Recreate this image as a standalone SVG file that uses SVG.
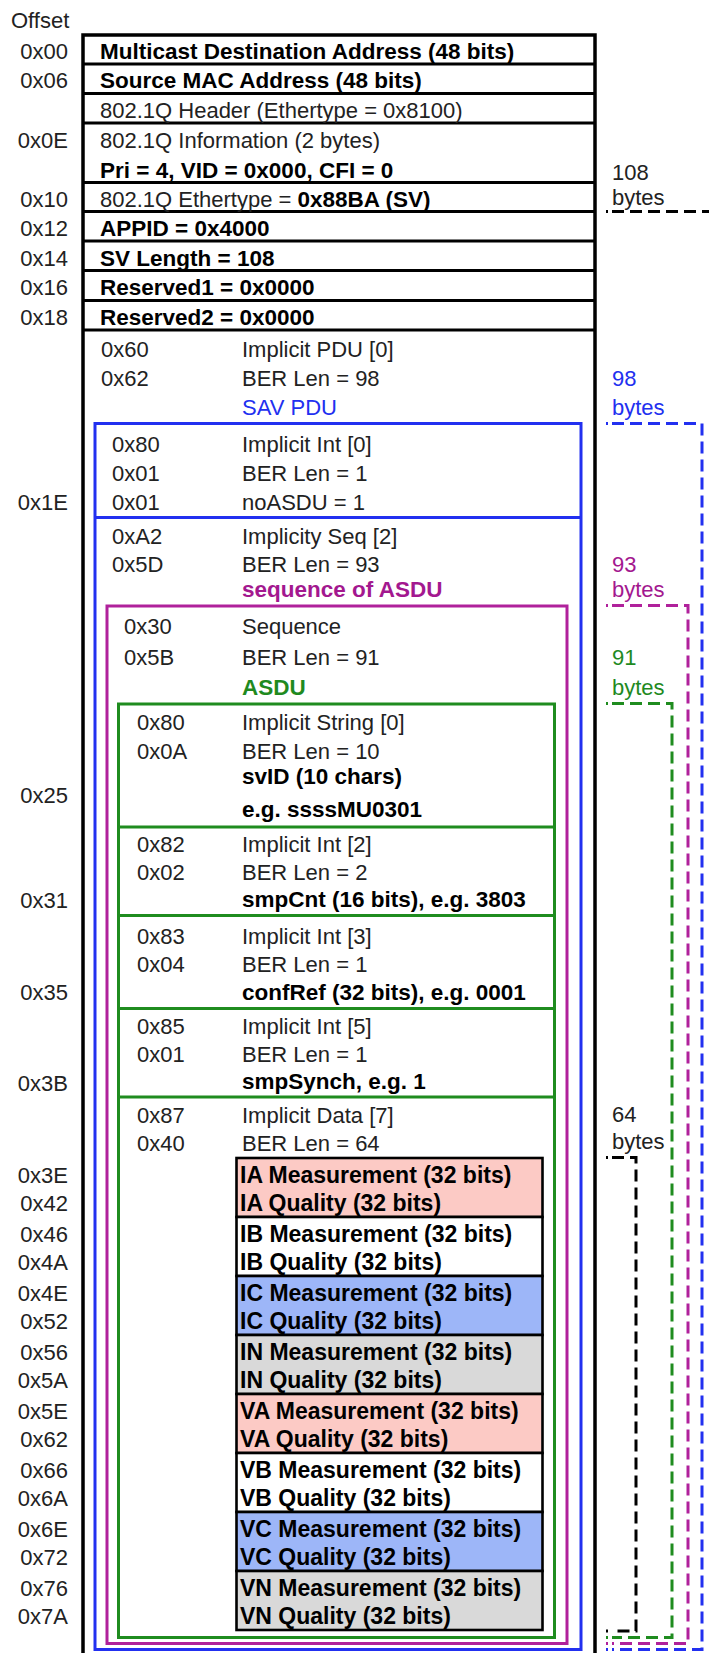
<svg xmlns="http://www.w3.org/2000/svg" width="709" height="1653" viewBox="0 0 709 1653">
<style>
text{font-family:"Liberation Sans",Arial,sans-serif;font-size:22px;fill:#222}
.b{font-weight:bold;font-size:22.5px;fill:#000}
.d{font-weight:bold;font-size:23px;fill:#000}
.r{text-anchor:end}
.bl{fill:#2230f0}
.mg{fill:#a3188f}
.gr{fill:#1f8a1f}
.sepK{stroke:#000;stroke-width:3}
.boxB{fill:none;stroke:#2230f0;stroke-width:3}
.boxM{fill:none;stroke:#b0219b;stroke-width:3}
.boxG{fill:none;stroke:#1f8c1f;stroke-width:3}
.cell{stroke:#000;stroke-width:2.6}
.pk{fill:#fccac5}.wh{fill:#fff}.bu{fill:#9db6f8}.gy{fill:#d9d9d9}
.dK{fill:none;stroke:#000;stroke-width:3;stroke-dasharray:12 6}
.dB{fill:none;stroke:#2230f0;stroke-width:3;stroke-dasharray:12 6}
.dM{fill:none;stroke:#b0219b;stroke-width:3;stroke-dasharray:12 6}
.dG{fill:none;stroke:#1f8c1f;stroke-width:3;stroke-dasharray:12 6}
</style>
<rect width="709" height="1653" fill="#fff"/>

<g id="offsets">
<text x="11" y="28">Offset</text>
<text class="r" x="68" y="59">0x00</text>
<text class="r" x="68" y="88">0x06</text>
<text class="r" x="68" y="148">0x0E</text>
<text class="r" x="68" y="207">0x10</text>
<text class="r" x="68" y="236">0x12</text>
<text class="r" x="68" y="265.5">0x14</text>
<text class="r" x="68" y="295">0x16</text>
<text class="r" x="68" y="324.5">0x18</text>
<text class="r" x="68" y="510">0x1E</text>
<text class="r" x="68" y="803">0x25</text>
<text class="r" x="68" y="908">0x31</text>
<text class="r" x="68" y="999.5">0x35</text>
<text class="r" x="68" y="1090.5">0x3B</text>
<text class="r" x="68" y="1182.5">0x3E</text>
<text class="r" x="68" y="1210.5">0x42</text>
<text class="r" x="68" y="1241.5">0x46</text>
<text class="r" x="68" y="1269.5">0x4A</text>
<text class="r" x="68" y="1300.5">0x4E</text>
<text class="r" x="68" y="1328.5">0x52</text>
<text class="r" x="68" y="1359.5">0x56</text>
<text class="r" x="68" y="1387.5">0x5A</text>
<text class="r" x="68" y="1418.5">0x5E</text>
<text class="r" x="68" y="1446.5">0x62</text>
<text class="r" x="68" y="1477.5">0x66</text>
<text class="r" x="68" y="1505.5">0x6A</text>
<text class="r" x="68" y="1536.5">0x6E</text>
<text class="r" x="68" y="1564.5">0x72</text>
<text class="r" x="68" y="1595.5">0x76</text>
<text class="r" x="68" y="1623.5">0x7A</text>
</g>

<g id="frame">
<rect x="83" y="35" width="512" height="1640" fill="none" stroke="#000" stroke-width="3.5"/>
</g>

<g id="header">
<line class="sepK" x1="83" y1="64" x2="595" y2="64"/>
<line class="sepK" x1="83" y1="93.5" x2="595" y2="93.5"/>
<line class="sepK" x1="83" y1="123" x2="595" y2="123"/>
<line class="sepK" x1="83" y1="182.5" x2="595" y2="182.5"/>
<line class="sepK" x1="83" y1="211.5" x2="595" y2="211.5"/>
<line class="sepK" x1="83" y1="241" x2="595" y2="241"/>
<line class="sepK" x1="83" y1="270.5" x2="595" y2="270.5"/>
<line class="sepK" x1="83" y1="300.5" x2="595" y2="300.5"/>
<line class="sepK" x1="83" y1="330" x2="595" y2="330"/>
<text class="b" x="100" y="59">Multicast Destination Address (48 bits)</text>
<text class="b" x="100" y="88">Source MAC Address (48 bits)</text>
<text x="100" y="118">802.1Q Header (Ethertype = 0x8100)</text>
<text x="100" y="148">802.1Q Information (2 bytes)</text>
<text class="b" x="100" y="178">Pri = 4, VID = 0x000, CFI = 0</text>
<text x="100" y="207">802.1Q Ethertype = <tspan class="b">0x88BA (SV)</tspan></text>
<text class="b" x="100" y="236">APPID = 0x4000</text>
<text class="b" x="100" y="265.5">SV Length = 108</text>
<text class="b" x="100" y="295">Reserved1 = 0x0000</text>
<text class="b" x="100" y="324.5">Reserved2 = 0x0000</text>
</g>

<g id="pdu">
<text x="101" y="356.5">0x60</text><text x="242" y="356.5">Implicit PDU [0]</text>
<text x="101" y="386">0x62</text><text x="242" y="386">BER Len = 98</text>
<text class="bl" x="242" y="415">SAV PDU</text>
</g>

<g id="sav-pdu">
<rect class="boxB" x="95" y="423.5" width="486" height="1226"/>
<line class="boxB" x1="95" y1="517.5" x2="581" y2="517.5"/>
<text x="112" y="451.5">0x80</text><text x="242" y="451.5">Implicit Int [0]</text>
<text x="112" y="481">0x01</text><text x="242" y="481">BER Len = 1</text>
<text x="112" y="510">0x01</text><text x="242" y="510">noASDU = 1</text>
<text x="112" y="543.5">0xA2</text><text x="242" y="543.5">Implicity Seq [2]</text>
<text x="112" y="572">0x5D</text><text x="242" y="572">BER Len = 93</text>
<text class="b mg" x="242" y="597">sequence of ASDU</text>
</g>

<g id="seq-asdu">
<rect class="boxM" x="107" y="606" width="460" height="1037.5"/>
<text x="124" y="634">0x30</text><text x="242" y="634">Sequence</text>
<text x="124" y="665">0x5B</text><text x="242" y="665">BER Len = 91</text>
<text class="b gr" x="242" y="695">ASDU</text>
</g>

<g id="asdu">
<rect class="boxG" x="118.5" y="704" width="436" height="933.5"/>
<line class="boxG" x1="118.5" y1="827" x2="554.5" y2="827"/>
<line class="boxG" x1="118.5" y1="915.5" x2="554.5" y2="915.5"/>
<line class="boxG" x1="118.5" y1="1008.5" x2="554.5" y2="1008.5"/>
<line class="boxG" x1="118.5" y1="1097" x2="554.5" y2="1097"/>
</g>

<g id="svid">
<text x="137" y="730">0x80</text><text x="242" y="730">Implicit String [0]</text>
<text x="137" y="759">0x0A</text><text x="242" y="759">BER Len = 10</text>
<text class="b" x="242" y="783.5">svID (10 chars)</text>
<text class="b" x="242" y="816.5">e.g. ssssMU0301</text>
</g>
<g id="smpcnt">
<text x="137" y="852">0x82</text><text x="242" y="852">Implicit Int [2]</text>
<text x="137" y="879.5">0x02</text><text x="242" y="879.5">BER Len = 2</text>
<text class="b" x="242" y="907">smpCnt (16 bits), e.g. 3803</text>
</g>
<g id="confref">
<text x="137" y="943.5">0x83</text><text x="242" y="943.5">Implicit Int [3]</text>
<text x="137" y="971.5">0x04</text><text x="242" y="971.5">BER Len = 1</text>
<text class="b" x="242" y="999.5">confRef (32 bits), e.g. 0001</text>
</g>
<g id="smpsynch">
<text x="137" y="1034">0x85</text><text x="242" y="1034">Implicit Int [5]</text>
<text x="137" y="1062">0x01</text><text x="242" y="1062">BER Len = 1</text>
<text class="b" x="242" y="1088.5">smpSynch, e.g. 1</text>
</g>
<g id="data">
<text x="137" y="1123">0x87</text><text x="242" y="1123">Implicit Data [7]</text>
<text x="137" y="1151">0x40</text><text x="242" y="1151">BER Len = 64</text>
</g>

<g id="ia"><rect class="cell pk" x="236.5" y="1158" width="306" height="59"/>
<text class="d" x="240" y="1182.5">IA Measurement (32 bits)</text><text class="d" x="240" y="1210.5">IA Quality (32 bits)</text></g>
<g id="ib"><rect class="cell wh" x="236.5" y="1217" width="306" height="59"/>
<text class="d" x="240" y="1241.5">IB Measurement (32 bits)</text><text class="d" x="240" y="1269.5">IB Quality (32 bits)</text></g>
<g id="ic"><rect class="cell bu" x="236.5" y="1276" width="306" height="59"/>
<text class="d" x="240" y="1300.5">IC Measurement (32 bits)</text><text class="d" x="240" y="1328.5">IC Quality (32 bits)</text></g>
<g id="in"><rect class="cell gy" x="236.5" y="1335" width="306" height="59"/>
<text class="d" x="240" y="1359.5">IN Measurement (32 bits)</text><text class="d" x="240" y="1387.5">IN Quality (32 bits)</text></g>
<g id="va"><rect class="cell pk" x="236.5" y="1394" width="306" height="59"/>
<text class="d" x="240" y="1418.5">VA Measurement (32 bits)</text><text class="d" x="240" y="1446.5">VA Quality (32 bits)</text></g>
<g id="vb"><rect class="cell wh" x="236.5" y="1453" width="306" height="59"/>
<text class="d" x="240" y="1477.5">VB Measurement (32 bits)</text><text class="d" x="240" y="1505.5">VB Quality (32 bits)</text></g>
<g id="vc"><rect class="cell bu" x="236.5" y="1512" width="306" height="59"/>
<text class="d" x="240" y="1536.5">VC Measurement (32 bits)</text><text class="d" x="240" y="1564.5">VC Quality (32 bits)</text></g>
<g id="vn"><rect class="cell gy" x="236.5" y="1571" width="306" height="59"/>
<text class="d" x="240" y="1595.5">VN Measurement (32 bits)</text><text class="d" x="240" y="1623.5">VN Quality (32 bits)</text></g>

<g id="size-labels">
<text x="612" y="179.5">108</text><text x="612" y="204.5">bytes</text>
<text class="bl" x="612" y="386">98</text><text class="bl" x="612" y="415">bytes</text>
<text class="mg" x="612" y="572">93</text><text class="mg" x="612" y="597">bytes</text>
<text class="gr" x="612" y="665">91</text><text class="gr" x="612" y="695">bytes</text>
<text x="612" y="1122">64</text><text x="612" y="1149">bytes</text>
</g>

<g id="connectors">
<path class="dK" d="M612 211.5 H709"/>
<line x1="606" y1="211.5" x2="608" y2="211.5" stroke="#000" stroke-width="3"/>
<path class="dB" d="M612 423.5 H702 V1649.5 H612"/>
<line x1="606" y1="423.5" x2="608" y2="423.5" stroke="#2230f0" stroke-width="3"/>
<line x1="606" y1="1649.5" x2="608" y2="1649.5" stroke="#2230f0" stroke-width="3"/>
<path class="dM" d="M612 605.5 H688 V1643.5 H612"/>
<line x1="606" y1="605.5" x2="608" y2="605.5" stroke="#b0219b" stroke-width="3"/>
<line x1="606" y1="1643.5" x2="608" y2="1643.5" stroke="#b0219b" stroke-width="3"/>
<path class="dG" d="M612 703.5 H672 V1637.5 H612"/>
<line x1="606" y1="703.5" x2="608" y2="703.5" stroke="#1f8c1f" stroke-width="3"/>
<line x1="606" y1="1637.5" x2="608" y2="1637.5" stroke="#1f8c1f" stroke-width="3"/>
<path class="dK" d="M612 1157.5 H636 V1631 H612"/>
<line x1="606" y1="1157.5" x2="608" y2="1157.5" stroke="#000" stroke-width="3"/>
<line x1="606" y1="1631" x2="608" y2="1631" stroke="#000" stroke-width="3"/>
</g>
</svg>
